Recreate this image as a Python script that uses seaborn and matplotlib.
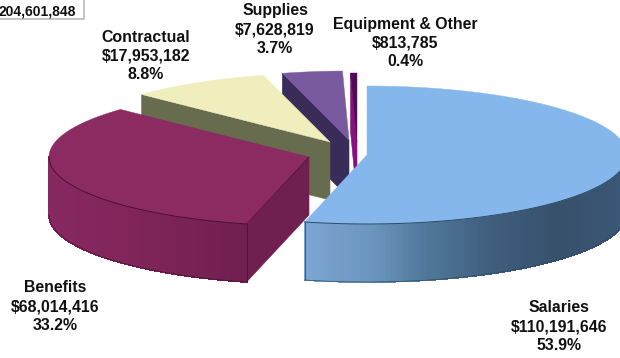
import numpy as np
import matplotlib
matplotlib.use("Agg")
import matplotlib.pyplot as plt
from matplotlib.patches import Polygon
from matplotlib.collections import PolyCollection
import seaborn as sns

# Budget by category
categories = ["Salaries", "Benefits", "Contractual", "Supplies", "Equipment & Other"]
amounts = [110191646, 68014416, 17953182, 7628819, 813785]
total_label = "204,601,848"

# Slice styling
top_colors = ["#85b7ec", "#8c2a62", "#efeebc", "#7a5a9e", "#4f0a58"]
face_colors = ["#6f9bc8", "#702050", "#686c4e", "#3a2c58", "#86107c"]
edge_colors = ["#2f4a66", "#4a1232", "#8a8a70", "#2a2040", "#4f0a58"]
wall_ramps = [
    ["#7ca6d2", "#6c97c0", "#4f7698", "#3f5d7c", "#37506c", "#3b5775"],
    ["#862862", "#82265c", "#7a2256", "#6f2050"],
    ["#686c4e", "#686c4e"],
    ["#3a2c58", "#3a2c58"],
    ["#4a0a52", "#4a0a52"],
]

# Layout of the exploded pie, in pixels
apex_xy = [(367, 155), (309, 157), (330, 142), (349, 140), (357, 142)]
RX, RY, DEPTH = 260.0, 69.0, 58.0
label_xy = [(559, 308), (55, 288), (146, 37), (275, 11), (405, 24)]
LINE_STEP = 18.7

sns.set_style("white")
plt.rcParams["font.family"] = ["Liberation Sans", "DejaVu Sans"]

fig = plt.figure(figsize=(6.2, 3.58), dpi=100)
ax = fig.add_axes([0, 0, 1, 1])
ax.set_xlim(0, 620)
ax.set_ylim(358, 0)
ax.axis("off")

total = sum(amounts)
ends = np.cumsum(amounts) / total * 360.0
starts = np.concatenate([[0.0], ends[:-1]])


def rim(cx, cy, deg):
    rad = np.radians(deg)
    return cx + RX * np.sin(rad), cy - RY * np.cos(rad)


# Painted back to front so the large slices overlap the small ones
for i in reversed(range(len(amounts))):
    cx, cy = apex_xy[i]
    a0, a1 = starts[i], ends[i]
    base = i * -3 + 20
    ts = np.linspace(a0, a1, 240)
    xs, ys = rim(cx, cy, ts)

    # Cut face along the leading radius (only the slices left of centre show it)
    if i > 0:
        x0, y0 = rim(cx, cy, a0)
        ax.add_patch(Polygon([(cx, cy), (x0, y0), (x0, y0 + DEPTH), (cx, cy + DEPTH)],
                             closed=True, facecolor=face_colors[i],
                             edgecolor=face_colors[i], lw=0.4, zorder=base))

    # Outer wall on the front half of the rim, shaded along x
    front = (ts > 90) & (ts < 270)
    if front.any():
        fx, fy = xs[front], ys[front]
        ramp = sns.blend_palette(wall_ramps[i], n_colors=256)
        lo, hi = fx.min(), min(fx.max(), 620)
        polys, cols = [], []
        for k in range(len(fx) - 1):
            polys.append([(fx[k], fy[k]), (fx[k + 1], fy[k + 1]),
                          (fx[k + 1], fy[k + 1] + DEPTH), (fx[k], fy[k] + DEPTH)])
            pos = np.clip((fx[k] - lo) / (hi - lo), 0, 1)
            cols.append(ramp[int(pos * 255)])
        ax.add_collection(PolyCollection(polys, facecolors=cols, edgecolors=cols,
                                         linewidths=0.6, antialiased=False, zorder=base))
        ax.plot(fx, fy + DEPTH, color=edge_colors[i], lw=0.5, zorder=base + 0.5)

    # Top surface
    outline = np.column_stack([np.r_[cx, xs], np.r_[cy, ys]])
    ax.add_patch(Polygon(outline, closed=True, facecolor=top_colors[i],
                         edgecolor=top_colors[i], lw=0.3, zorder=base + 1))

    # Thin dark lines along the front rim and the corner where wall meets cut
    if front.any():
        ax.plot(fx, fy, color=edge_colors[i], lw=0.7, zorder=base + 1.5)
        xc, yc = rim(cx, cy, ends[0])
        ax.plot([xc, xc], [yc, yc + DEPTH], color=edge_colors[i], lw=0.6, zorder=base + 1.5)
    if i == 1:
        xc, yc = rim(cx, cy, a0)
        ax.plot([cx, xc], [cy, yc], color=edge_colors[i], lw=0.5, zorder=base + 1.5)

    # Category, amount and share stacked above or below the slice
    lx, ly = label_xy[i]
    lines = [categories[i], f"${amounts[i]:,}", f"{amounts[i] / total:.1%}"]
    for n, line in enumerate(lines):
        ax.text(lx, ly + n * LINE_STEP, line, ha="center", va="center",
                fontsize=11.4, fontweight="bold", color="#101010", zorder=40)

# Grand total box running off the top-left corner
ax.add_patch(Polygon([(-5, -5), (84, -5), (84, 18.5), (-5, 18.5)], closed=True,
                     facecolor="white", edgecolor="#c4c4c4", lw=1.4, zorder=30))
ax.text(76, 11.5, total_label, ha="right", va="center", fontsize=10.0,
        fontweight="bold", color="#101010", zorder=41)

fig.savefig("out.png", dpi=100)
